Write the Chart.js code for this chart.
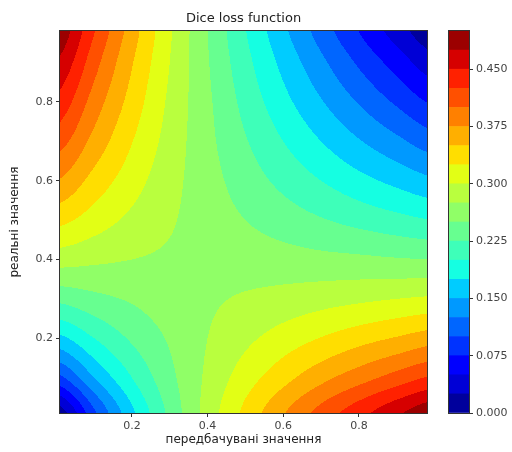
<!DOCTYPE html>
<html lang="uk">
<head>
<meta charset="UTF-8">
<title>Dice loss function</title>
<script src="https://cdn.jsdelivr.net/npm/chart.js"></script>
<style>
  body { margin: 0; background: #fff; }
  #wrap { position: relative; width: 512px; height: 452px; }
  #contour { position: absolute; left: 0; top: 0; }
  #cbar { position: absolute; left: 440px; top: 0; }
</style>
</head>
<body>
<div id="wrap">
  <canvas id="contour" width="512" height="452"></canvas>
  <canvas id="cbar" width="72" height="452"></canvas>
</div>
<script>
// grid nodes: predicted values (x) and real values (y)
var gridX = [0, 0.1, 0.2, 0.3, 0.4, 0.5, 0.6, 0.7, 0.8, 0.9, 1.0];
var gridY = [0, 0.1, 0.2, 0.3, 0.4, 0.5, 0.6, 0.7, 0.8, 0.9, 1.0];

// loss, one row per y node (bottom row first)
var lossRows = [
  [0.000, 0.091, 0.167, 0.231, 0.286, 0.333, 0.375, 0.412, 0.444, 0.474, 0.500],
  [0.091, 0.150, 0.200, 0.243, 0.280, 0.313, 0.341, 0.367, 0.389, 0.410, 0.429],
  [0.167, 0.200, 0.229, 0.253, 0.275, 0.294, 0.311, 0.326, 0.340, 0.352, 0.364],
  [0.231, 0.243, 0.253, 0.263, 0.271, 0.278, 0.284, 0.290, 0.295, 0.300, 0.304],
  [0.286, 0.280, 0.275, 0.271, 0.267, 0.263, 0.260, 0.257, 0.255, 0.252, 0.250],
  [0.333, 0.313, 0.294, 0.278, 0.263, 0.250, 0.238, 0.227, 0.217, 0.208, 0.200],
  [0.375, 0.341, 0.311, 0.284, 0.260, 0.238, 0.218, 0.200, 0.183, 0.168, 0.154],
  [0.412, 0.367, 0.326, 0.290, 0.257, 0.227, 0.200, 0.175, 0.152, 0.131, 0.111],
  [0.444, 0.389, 0.340, 0.295, 0.255, 0.217, 0.183, 0.152, 0.123, 0.096, 0.071],
  [0.474, 0.410, 0.352, 0.300, 0.252, 0.208, 0.168, 0.131, 0.096, 0.064, 0.034],
  [0.500, 0.429, 0.364, 0.304, 0.250, 0.200, 0.154, 0.111, 0.071, 0.034, 0.000]
];

// contour levels
var levels = [0, 0.025, 0.05, 0.075, 0.1, 0.125, 0.15, 0.175, 0.2, 0.225, 0.25,
              0.275, 0.3, 0.325, 0.35, 0.375, 0.4, 0.425, 0.45, 0.475, 0.5];

var xTicks = [0.2, 0.4, 0.6, 0.8];
var yTicks = [0.2, 0.4, 0.6, 0.8];
var cbTicks = [0, 0.075, 0.15, 0.225, 0.3, 0.375, 0.45];

// jet colormap
var JR = [[0, 0], [0.35, 0], [0.66, 1], [0.89, 1], [1, 0.5]];
var JG = [[0, 0], [0.125, 0], [0.375, 1], [0.64, 1], [0.91, 0], [1, 0]];
var JB = [[0, 0.5], [0.11, 1], [0.34, 1], [0.65, 0], [1, 0]];

function jet(t) {
  function seg(pts) {
    for (var i = 1; i < pts.length; i++) {
      if (t <= pts[i][0]) {
        var a = pts[i - 1], b = pts[i];
        return a[1] + (b[1] - a[1]) * (t - a[0]) / (b[0] - a[0]);
      }
    }
    return pts[pts.length - 1][1];
  }
  return [seg(JR), seg(JG), seg(JB)].map(function (v) { return Math.round(v * 255); });
}

var nBands = levels.length - 1;
var bandColours = [];
for (var i = 0; i < nBands; i++) {
  bandColours.push(jet((i + 0.5) / nBands));
}

function bandOf(v) {
  for (var i = 0; i < nBands; i++) {
    if (v < levels[i + 1]) return i;
  }
  return nBands - 1;
}

// smooth reading of the grid between nodes (catmull-rom)
function cr(p0, p1, p2, p3, t) {
  return p1 + 0.5 * t * (p2 - p0 + t * (2 * p0 - 5 * p1 + 4 * p2 - p3 + t * (3 * (p1 - p2) + p3 - p0)));
}

function valueAt(x, y) {
  var nx = gridX.length, ny = gridY.length;
  var fx = (x - gridX[0]) / (gridX[1] - gridX[0]);
  var fy = (y - gridY[0]) / (gridY[1] - gridY[0]);
  var ix = Math.max(0, Math.min(Math.floor(fx), nx - 2));
  var iy = Math.max(0, Math.min(Math.floor(fy), ny - 2));
  var tx = fx - ix, ty = fy - iy;
  function at(r, c) {
    r = Math.max(0, Math.min(ny - 1, r));
    c = Math.max(0, Math.min(nx - 1, c));
    return lossRows[r][c];
  }
  var col = [];
  for (var k = -1; k <= 2; k++) {
    col.push(cr(at(iy + k, ix - 1), at(iy + k, ix), at(iy + k, ix + 1), at(iy + k, ix + 2), tx));
  }
  return cr(col[0], col[1], col[2], col[3], ty);
}

var frame = {
  id: 'frame',
  afterDraw: function (chart) {
    var a = chart.chartArea, ctx = chart.ctx;
    ctx.save();
    ctx.strokeStyle = '#333';
    ctx.lineWidth = 1;
    ctx.strokeRect(a.left - 0.5, a.top - 0.5, a.right - a.left + 1, a.bottom - a.top + 1);
    ctx.restore();
  }
};

// filled contours, painted pixel by pixel through the chart's scales
var contourPlugin = {
  id: 'contour',
  beforeDatasetsDraw: function (chart) {
    var a = chart.chartArea, sx = chart.scales.x, sy = chart.scales.y, ctx = chart.ctx;
    var x0 = Math.round(a.left), y0 = Math.round(a.top);
    var w = Math.round(a.right) - x0, h = Math.round(a.bottom) - y0;
    var pad = 3, W = w + 2 * pad, H = h + 2 * pad;
    var off = document.createElement('canvas');
    off.width = W;
    off.height = H;
    var octx = off.getContext('2d');
    var img = octx.createImageData(W, H);
    for (var j = 0; j < H; j++) {
      var yv = sy.getValueForPixel(y0 - pad + j + 0.5);
      for (var i = 0; i < W; i++) {
        var xv = sx.getValueForPixel(x0 - pad + i + 0.5);
        var c = bandColours[bandOf(valueAt(xv, yv))];
        var k = (j * W + i) * 4;
        img.data[k] = c[0];
        img.data[k + 1] = c[1];
        img.data[k + 2] = c[2];
        img.data[k + 3] = 255;
      }
    }
    octx.putImageData(img, 0, 0);
    ctx.save();
    ctx.beginPath();
    ctx.rect(x0, y0, w, h);
    ctx.clip();
    ctx.filter = 'blur(0.7px)';
    ctx.drawImage(off, x0 - pad, y0 - pad);
    ctx.restore();
  }
};

var tickFont = { family: 'DejaVu Sans', size: 11 };
var labelFont = { family: 'DejaVu Sans', size: 12 };

new Chart(document.getElementById('contour'), {
  type: 'scatter',
  data: { datasets: [{ data: [] }] },
  options: {
    responsive: false,
    animation: false,
    layout: { padding: { right: 85 } },
    plugins: {
      legend: { display: false },
      tooltip: { enabled: false },
      title: {
        display: true,
        text: 'Dice loss function',
        fullSize: false,
        color: '#222',
        font: { family: 'DejaVu Sans', size: 13, weight: 'normal', lineHeight: 1.2 },
        padding: { top: 11, bottom: 4.4 }
      }
    },
    scales: {
      x: {
        type: 'linear',
        min: 0.01,
        max: 0.98,
        afterBuildTicks: function (s) { s.ticks = xTicks.map(function (v) { return { value: v }; }); },
        afterFit: function (s) { s.height = 39; },
        ticks: { color: '#444', font: tickFont, padding: 3, maxRotation: 0,
                 callback: function (v) { return v.toFixed(1); } },
        grid: { drawOnChartArea: false, tickLength: 4, color: '#333' },
        border: { display: false },
        title: { display: true, text: 'передбачувані значення', color: '#222', font: labelFont,
                 padding: { top: 0, bottom: 5 } }
      },
      y: {
        type: 'linear',
        min: 0.01,
        max: 0.98,
        afterBuildTicks: function (s) { s.ticks = yTicks.map(function (v) { return { value: v }; }); },
        afterFit: function (s) { s.width = 60; },
        ticks: { color: '#444', font: tickFont, padding: 3,
                 callback: function (v) { return v.toFixed(1); } },
        grid: { drawOnChartArea: false, tickLength: 4, color: '#333' },
        border: { display: false },
        title: { display: true, text: 'реальні значення', color: '#222', font: labelFont,
                 padding: { top: 8, bottom: 0 } }
      }
    }
  },
  plugins: [contourPlugin, frame]
});

// colour bar
var cbSets = [];
for (var b = 0; b < nBands; b++) {
  var c = bandColours[b];
  cbSets.push({
    data: [[levels[b], levels[b + 1]]],
    backgroundColor: 'rgb(' + c[0] + ',' + c[1] + ',' + c[2] + ')',
    borderWidth: 0,
    grouped: false,
    barPercentage: 1,
    categoryPercentage: 1
  });
}

new Chart(document.getElementById('cbar'), {
  type: 'bar',
  data: { labels: [''], datasets: cbSets },
  options: {
    responsive: false,
    animation: false,
    layout: { padding: { left: 9, top: 31, bottom: 39, right: 0 } },
    plugins: { legend: { display: false }, tooltip: { enabled: false } },
    scales: {
      x: { display: false },
      y: {
        position: 'right',
        min: 0,
        max: 0.5,
        afterBuildTicks: function (s) { s.ticks = cbTicks.map(function (v) { return { value: v }; }); },
        afterFit: function (s) { s.width = 43; },
        ticks: { color: '#444', font: tickFont, padding: 3,
                 callback: function (v) { return v.toFixed(3); } },
        grid: { drawOnChartArea: false, tickLength: 4, color: '#333' },
        border: { display: false }
      }
    }
  },
  plugins: [frame]
});
</script>
</body>
</html>
